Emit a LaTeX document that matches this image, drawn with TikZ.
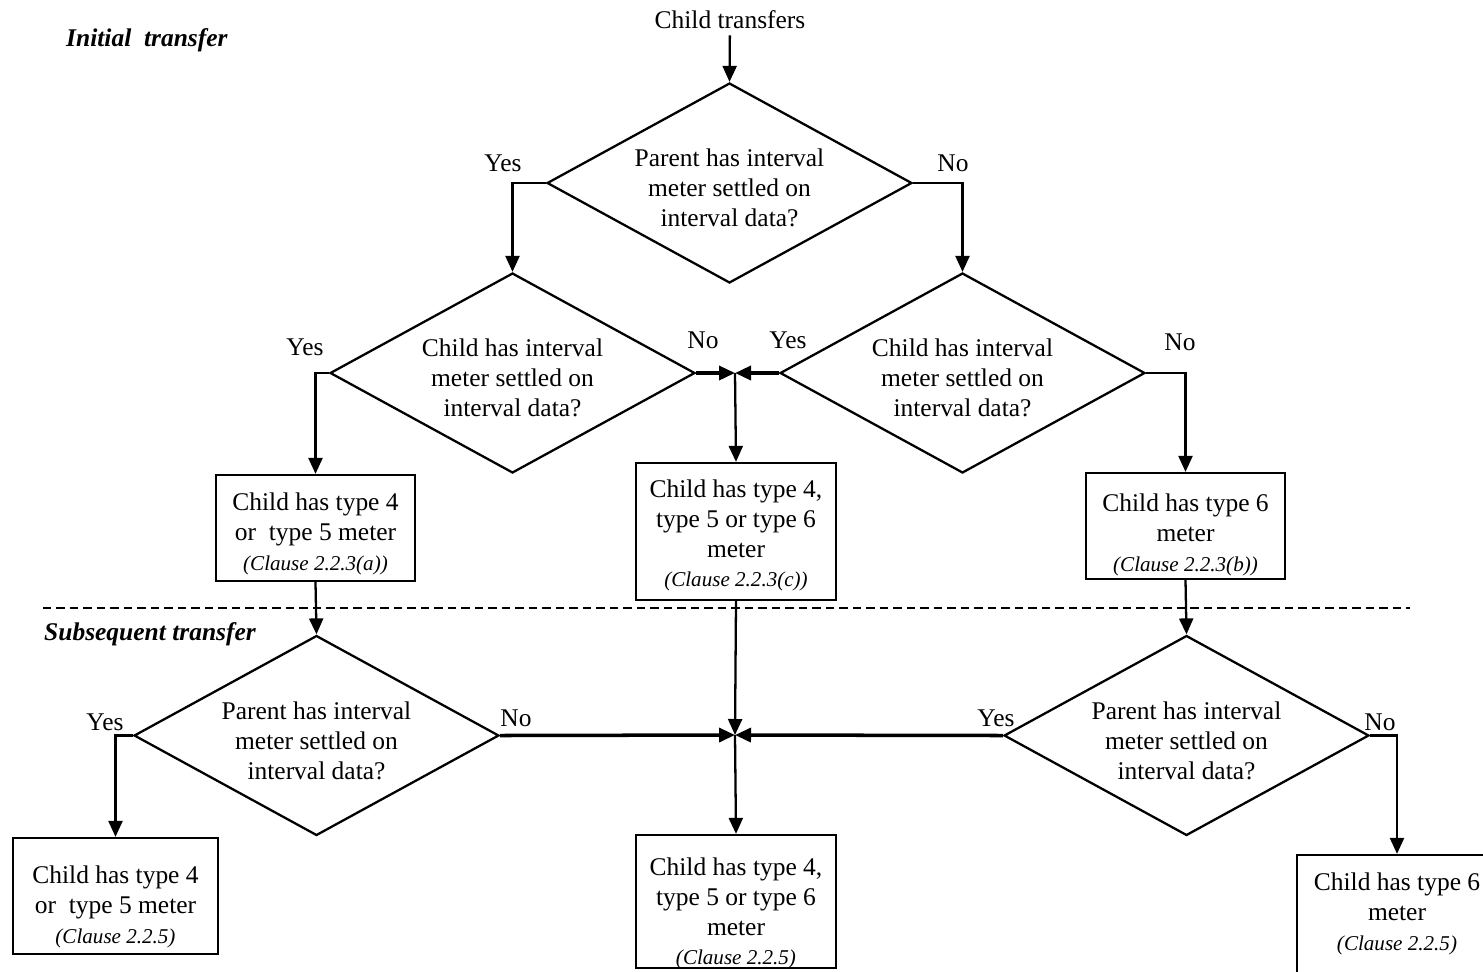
\documentclass[tikz,border=0pt]{standalone}
\usepackage{fontspec}
\setmainfont{Liberation Serif}
\usetikzlibrary{shapes.geometric,arrows.meta}

\newcommand{\clause}[1]{{\fontsize{12}{14}\selectfont\itshape #1}}

\begin{document}
\begin{tikzpicture}[x=0.02cm, y=-0.02cm,
        every node/.style={font=\fontsize{14.5}{17}\selectfont, align=center},
        decision/.style={diamond, draw, line width=1.3pt, inner sep=0pt, aspect=1.83,
            minimum width=7.3cm, minimum height=4cm},
        block/.style={rectangle, draw, line width=1.3pt, inner sep=0pt},
        arr/.style={line width=1.3pt, -{Triangle[length=0.32cm, width=0.28cm]}},
        arrthick/.style={line width=2pt, -{Triangle[length=0.32cm, width=0.28cm]}},
        title/.style={font=\fontsize{14.5}{17}\selectfont\bfseries\itshape, anchor=west}]

        \useasboundingbox (0, 0) rectangle (1483, 971);
        \clip (0, 0) rectangle (1483, 971);

        \coordinate (M1) at (735, 373);
        \coordinate (M2) at (735, 735);

        \node[title] (T1) at (60, 40) {Initial\ \ transfer};
        \node[title] (T2) at (38, 634) {Subsequent transfer};

        \node (S) at (730, 20) {Child transfers};

        \node[decision, label={[yshift=-0.1cm]center:{Parent has interval\\meter settled on\\interval data?}}]
            (D1) at (729.5, 183) {};
        \node[decision, label={[yshift=-0.1cm]center:{Child has interval\\meter settled on\\interval data?}}]
            (D2) at (512.5, 373) {};
        \node[decision, label={[yshift=-0.1cm]center:{Child has interval\\meter settled on\\interval data?}}]
            (D3) at (962.5, 373) {};
        \node[decision, label={[yshift=-0.1cm]center:{Parent has interval\\meter settled on\\interval data?}}]
            (D4) at (316.5, 735.5) {};
        \node[decision, label={[yshift=-0.1cm]center:{Parent has interval\\meter settled on\\interval data?}}]
            (D5) at (1186.5, 735.5) {};

        \node[block, minimum width=3.98cm, minimum height=2.12cm,
            label={[yshift=-0.12cm]center:{Child has type 4\\or\ \ type 5 meter\\\clause{(Clause 2.2.3(a))}}}]
            (B1) at (315.5, 528) {};
        \node[block, minimum width=4cm, minimum height=2.74cm,
            label={[yshift=-0.08cm]center:{Child has type 4,\\type 5 or type 6\\meter\\\clause{(Clause 2.2.3(c))}}}]
            (B2) at (736, 531.5) {};
        \node[block, minimum width=3.98cm, minimum height=2.12cm,
            label={[yshift=-0.18cm]center:{Child has type 6\\meter\\\clause{(Clause 2.2.3(b))}}}]
            (B3) at (1185.5, 526) {};
        \node[block, minimum width=4.1cm, minimum height=2.32cm,
            label={[yshift=-0.22cm]center:{Child has type 4\\or\ \ type 5 meter\\\clause{(Clause 2.2.5)}}}]
            (B4) at (115.5, 896) {};
        \node[block, minimum width=4cm, minimum height=2.66cm,
            label={[yshift=-0.24cm]center:{Child has type 4,\\type 5 or type 6\\meter\\\clause{(Clause 2.2.5)}}}]
            (B5) at (736, 901.5) {};
        \node[block, minimum width=4cm, minimum height=2.4cm,
            label={[yshift=0.02cm]center:{Child has type 6\\meter\\\clause{(Clause 2.2.5)}}}]
            (B6) at (1397, 915) {};

        % yes / no labels
        \node (Y1) at (503, 163) {Yes};
        \node (N1) at (953, 163) {No};
        \node (Y2) at (305, 347) {Yes};
        \node (N2) at (703, 340) {No};
        \node (Y3) at (788, 340) {Yes};
        \node (N3) at (1180, 342) {No};
        \node (Y4) at (105, 722) {Yes};
        \node (N4) at (516, 718) {No};
        \node (Y5) at (996, 718) {Yes};
        \node (N5) at (1380, 722) {No};

        \draw[dashed, line width=0.6pt, dash pattern=on 0.17cm off 0.1cm] (43, 608) -- (1410, 608);

        \draw[arr] (S) -- (D1.north);
        \draw[arr] (D1.west) -| (D2.north);
        \draw[arr] (D1.east) -| (D3.north);
        \draw[arr] (D2.west) -| (B1.north);
        \draw[arr] (D3.east) -| (B3.north);
        \draw[arrthick] (D2.east) -- (M1);
        \draw[arrthick] (D3.west) -- (M1);
        \draw[arr] (M1) -- (B2.north);

        \draw[arr] (B1.south) -- (D4.north);
        \draw[arr] (B3.south) -- (D5.north);
        \draw[arr] (D4.west) -| (B4.north);
        \draw[arr] (D5.east) -| (B6.north);
        \draw[arrthick] (D4.east) -- (M2);
        \draw[arrthick] (D5.west) -- (M2);
        \draw[arr] (B2.south) -- (M2);
        \draw[arr] (M2) -- (B5.north);

    \end{tikzpicture}
\end{document}
